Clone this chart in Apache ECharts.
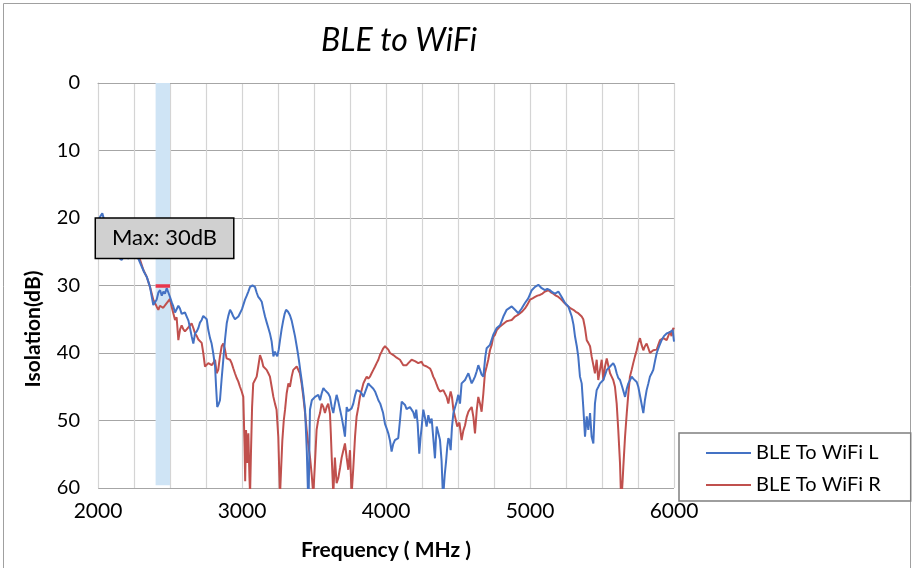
<!DOCTYPE html>
<html><head><meta charset="utf-8">
<script src="https://cdn.jsdelivr.net/npm/echarts@6/dist/echarts.min.js"></script>
<style>html,body{margin:0;padding:0;background:#fff}#c{width:913px;height:568px}</style>
</head><body><div id="c"></div>
<script>
// ---- data ----
const freqL = [2000,2015,2030,2045,2060,2080,2100,2120,2140,2164,2185,2210,2240,2260,2280,2300,2320,2340,2361,2372,2384,2395,2407,2420,2431,2443,2454,2465,2477,2488,2500,2512,2523,2535,2546,2558,2569,2581,2593,2604,2616,2628,2639,2650,2662,2674,2686,2697,2708,2720,2731,2743,2755,2766,2778,2789,2800,2813,2820,2828,2837,2847,2858,2870,2882,2894,2905,2917,2928,2940,2951,2963,2975,2986,3000,3021,3033,3044,3056,3073,3090,3101,3113,3125,3137,3148,3160,3172,3183,3195,3206,3218,3229,3237,3245,3255,3264,3275,3287,3296,3306,3320,3333,3345,3356,3368,3380,3390,3398,3406,3414,3426,3438,3450,3458,3463,3468,3472,3485,3496,3507,3518,3530,3542,3553,3565,3576,3588,3599,3611,3623,3634,3645,3657,3669,3681,3692,3704,3715,3727,3738,3750,3761,3773,3785,3796,3808,3819,3831,3843,3860,3877,3889,3900,3912,3924,3935,3947,3960,3980,3993,4005,4016,4028,4039,4050,4062,4074,4085,4097,4109,4120,4132,4143,4155,4166,4178,4190,4201,4210,4220,4231,4240,4248,4259,4270,4282,4294,4306,4317,4328,4340,4346,4352,4363,4375,4386,4394,4398,4408,4417,4425,4433,4441,4449,4458,4468,4480,4491,4502,4514,4525,4537,4549,4560,4572,4584,4595,4607,4618,4630,4641,4653,4664,4676,4690,4699,4722,4745,4769,4792,4815,4838,4850,4873,4896,4919,4942,4965,4988,5012,5035,5058,5081,5104,5120,5139,5155,5174,5197,5220,5243,5266,5290,5302,5313,5325,5335,5347,5359,5370,5382,5394,5405,5417,5428,5440,5451,5463,5475,5486,5498,5509,5521,5533,5545,5556,5567,5578,5590,5602,5613,5625,5640,5660,5672,5683,5695,5706,5717,5729,5741,5752,5770,5787,5798,5810,5822,5833,5845,5856,5868,5880,5897,5914,5930,5949,5960,5972,5985,5991,6000];
const isoL = [20.5,19.8,19.3,20.5,22,23.5,24.5,25.5,25.8,26.2,25.5,26.0,25.5,25.8,26.0,27.0,28.0,28.8,30.2,31.5,32.9,32.5,32.1,31.0,30.7,31.5,30.9,31.2,30.4,31.0,31.7,32.5,33.1,34.0,33.9,33.0,33.4,34.2,34.1,34.0,34.6,35.2,36.3,37.5,38.6,37.1,36.8,36.3,35.5,35.1,34.5,34.4,35.0,36.6,37.8,38.6,40.0,42.0,45.0,48.0,47.6,47.0,44.0,41.0,38.0,35.6,34.5,33.6,34.0,34.6,35.0,35.1,34.6,34.4,33.5,32.1,31.5,30.9,30.2,30.0,30.2,31.0,31.7,32.0,32.4,33.5,34.6,35.5,36.3,37.2,38.3,40.5,39.8,40.2,40.5,39.5,38.1,36.5,35.1,34.2,33.6,33.9,34.4,35.2,36.3,37.5,39.0,40.3,41.5,42.8,44.0,46.0,48.4,54.5,60.5,61,54,48.4,47.0,47.2,46.5,46.6,46.2,47.0,46.0,45.2,45.5,45.7,46.0,46.5,48.0,48.9,47.5,46.2,47.2,48.4,49.5,50.9,52.4,48.0,48.6,48.4,48.2,47.5,46.3,45.5,45.3,45.7,46.0,46.5,45.5,44.5,44.8,45.0,45.3,45.7,46.3,47.0,47.5,48.9,50.5,51.2,51.9,53.0,54.6,53.5,52.9,52.7,52.6,50.0,47.2,47.4,47.7,48.3,48.4,48.0,48.0,48.8,49.7,48.4,50.5,54.9,52.5,50.9,48.4,49.5,50.9,49.2,50.4,49.7,52.5,55.6,53.0,50.9,51.8,52.9,56.0,60.5,61,58.0,56.1,54.0,52.6,53.0,54.4,51.0,48.9,48.0,47.2,46.2,47.5,44.5,44.3,44.0,43.5,43.0,43.8,44.5,44.0,43.5,42.7,41.8,42.5,43.2,43.5,40.5,39.3,38.8,37.3,36.3,35.9,34.6,33.6,33.8,33.1,33.6,34.1,33.4,32.6,31.9,30.7,30.2,29.9,30.4,30.7,30.5,30.7,31.0,31.2,30.9,31.7,32.6,33.1,34.6,35.8,37.6,39.0,40.5,43.5,44.5,48.0,52.4,49.4,51.4,48.9,52.4,53.4,47.5,45.5,45.0,44.5,44.5,44.0,43.3,42.5,42.3,42.0,41.8,41.5,42.0,43.0,43.7,44.0,45.0,46.5,45.3,44.5,44.0,43.5,43.8,44.0,44.3,45.0,47.0,48.9,47.0,45.5,44.5,43.5,43.0,42.5,41.2,40.0,39.0,38.1,37.5,37.1,37.3,36.9,36.8,36.6,38.3];

const freqR = [2000,2040,2080,2118,2150,2200,2250,2270,2292,2315,2338,2361,2384,2407,2419,2430,2442,2453,2465,2477,2488,2500,2512,2523,2535,2546,2558,2570,2581,2593,2604,2616,2627,2639,2650,2662,2674,2686,2697,2708,2720,2731,2743,2755,2766,2778,2790,2800,2813,2824,2835,2847,2859,2870,2882,2893,2905,2917,2928,2940,2951,2963,2974,2986,2998,3009,3018,3022,3028,3037,3044,3052,3056,3062,3070,3078,3090,3102,3113,3125,3137,3148,3160,3171,3183,3194,3206,3218,3229,3240,3252,3258,3264,3272,3280,3290,3299,3310,3322,3333,3345,3356,3368,3380,3391,3402,3414,3426,3438,3449,3460,3472,3484,3495,3505,3518,3530,3542,3553,3565,3576,3588,3599,3611,3617,3623,3634,3645,3657,3669,3681,3692,3704,3715,3727,3738,3750,3761,3773,3785,3796,3808,3819,3831,3843,3854,3866,3877,3889,3900,3912,3924,3935,3947,3958,3970,3981,3993,4005,4016,4028,4040,4051,4063,4074,4085,4097,4109,4120,4132,4143,4155,4167,4178,4190,4201,4213,4224,4236,4247,4259,4271,4283,4294,4306,4317,4328,4340,4352,4363,4375,4386,4398,4410,4421,4433,4441,4449,4458,4468,4480,4495,4510,4525,4537,4549,4560,4572,4584,4595,4607,4618,4630,4641,4653,4664,4676,4687,4699,4710,4722,4734,4745,4757,4769,4786,4803,4820,4838,4855,4873,4896,4913,4931,4948,4965,4983,5000,5018,5035,5052,5069,5087,5104,5127,5145,5162,5180,5197,5214,5231,5249,5266,5283,5301,5318,5335,5347,5359,5370,5382,5394,5405,5417,5428,5440,5451,5463,5474,5486,5498,5509,5521,5533,5545,5556,5567,5578,5590,5602,5613,5625,5631,5637,5643,5648,5660,5672,5683,5694,5706,5717,5729,5741,5752,5764,5775,5787,5798,5810,5822,5833,5845,5856,5868,5880,5891,5903,5914,5926,5937,5949,5960,5972,5983,5995,6000];
const isoR = [22,23,24.5,25.9,25.5,25.5,25.8,25.8,26.2,27.7,28.7,30.2,32.1,33.1,33.6,33.0,32.9,33.3,33.1,32.6,32.4,32.0,33.2,34.1,35.1,34.7,38.1,36.5,35.9,36.5,36.8,36.5,36.3,35.9,35.6,36.3,37.1,37.5,38.0,38.1,38.5,40.0,42.0,42.0,41.5,41.7,41.8,41.5,41.0,43.0,42.5,40.5,39.0,38.6,39.5,40.8,40.8,41.0,41.5,42.3,43.0,43.7,44.2,45.0,45.7,46.5,54.0,59.0,51.4,56.3,51.9,58.5,61,55.0,48.0,44.5,44.0,43.5,42.0,40.3,41.0,42.0,42.2,42.5,43.0,43.5,45.0,46.5,47.5,48.4,52.4,57.0,61,57.0,53.0,50.0,48.4,46.0,44.5,45.0,43.5,42.5,42.3,42.0,42.0,43.0,44.5,46.5,48.9,51.4,53.5,55.4,58.0,61,57.0,51.4,49.8,48.9,47.5,48.0,48.9,48.0,47.5,49.0,52.0,55.4,61,55.5,59.3,58.5,57.0,55.5,54.4,53.4,55.5,57.3,54.4,61,57.0,52.4,49.4,48.0,46.5,45.5,44.5,44.0,43.5,43.8,43.5,43.0,42.5,42.0,41.5,41.0,40.3,39.8,39.3,39.0,39.0,39.5,40.0,40.2,40.3,40.5,40.7,40.8,41.0,41.2,41.8,42.0,41.8,41.5,41.3,41.0,40.8,41.2,41.3,41.5,41.3,41.3,41.8,42.0,42.0,42.2,42.3,42.8,43.5,44.0,44.7,45.3,45.7,45.5,45.5,45.7,46.5,47.5,46.5,45.7,46.5,48.4,49.5,50.9,50.3,52.9,51.5,50.7,49.5,48.7,48.3,48.0,49.5,51.9,48.5,46.5,47.5,48.7,46.0,43.0,42.0,41.0,39.6,38.8,37.6,37.3,36.6,36.2,35.9,35.6,35.3,35.2,35.1,34.6,34.4,34.1,33.8,33.4,32.8,32.1,31.9,31.7,31.5,31.4,31.2,30.9,30.7,31.0,31.2,31.5,31.7,32.0,32.4,32.8,33.1,33.4,33.6,33.9,34.1,34.3,34.6,35.0,36.3,38.1,38.5,39.0,40.5,41.8,43.0,41.0,44.0,42.5,41.0,44.0,42.0,40.8,42.0,43.0,43.5,44.0,45.0,47.5,51.4,56.3,60.5,61,59.0,56.9,52.4,48.9,46.0,43.5,42.5,41.5,40.5,39.6,38.5,37.8,38.8,39.6,39.0,38.6,39.3,40.0,39.8,39.6,39.8,39.5,38.8,38.1,37.9,37.8,38.0,38.1,37.5,36.8,37.5,36.3,36.5];

const bandRange = [2400, 2500];   // BLE band
const maxValue = 30;              // max isolation in band
const maxLabel = 'Max: 30dB';
const labelAnchor = [2462, 23.0];
const xTicks = [2000, 3000, 4000, 5000, 6000];
const yTicks = [0, 10, 20, 30, 40, 50, 60];

const FONT = 'Lato, "Open Sans", sans-serif';
const pairs = (xs, ys) => xs.map((x, i) => [x, ys[i]]);

const chart = echarts.init(document.getElementById('c'), null, {renderer: 'canvas'});
chart.setOption({
  animation: false,
  backgroundColor: '#fff',
  title: {
    text: 'BLE to WiFi', left: 394, top: 20, textAlign: 'center',
    textStyle: {fontFamily: FONT, fontStyle: 'italic', fontWeight: 'normal', fontSize: 32, color: '#000'}
  },
  grid: {left: 98, right: 239, top: 83, bottom: 80, containLabel: false},
  legend: {
    left: 679, top: 433, orient: 'vertical',
    padding: [10, 30, 6, 26], itemGap: 12, itemWidth: 45, itemHeight: 18,
    borderColor: '#7f7f7f', borderWidth: 1.5, backgroundColor: '#fff',
    itemStyle: {opacity: 0},
    textStyle: {fontFamily: FONT, fontSize: 20, color: '#000', lineHeight: 18},
    data: ['BLE To WiFi L', 'BLE To WiFi R']
  },
  xAxis: {
    type: 'value', min: 2000, max: 6000, interval: 250,
    name: 'Frequency ( MHz )', nameLocation: 'middle', nameGap: 52,
    nameTextStyle: {fontFamily: FONT, fontWeight: 'bold', fontSize: 21, color: '#000'},
    axisLine: {show: true, lineStyle: {color: '#a6a6a6', width: 1}},
    axisTick: {show: false},
    axisLabel: {
      fontFamily: FONT, fontSize: 21, color: '#000', margin: 13,
      formatter: v => xTicks.includes(v) ? String(v) : ''
    },
    splitLine: {show: true, lineStyle: {color: '#d4d4d4', width: 1.2}}
  },
  yAxis: {
    type: 'value', min: 0, max: 60, interval: 10, inverse: true,
    axisLine: {show: true, lineStyle: {color: '#d4d4d4', width: 1}},
    axisTick: {show: false},
    axisLabel: {fontFamily: FONT, fontSize: 20, color: '#000', margin: 18,
      formatter: v => yTicks.includes(v) ? String(v) : ''},
    splitLine: {show: true, lineStyle: {color: '#a6a6a6', width: 1.2}}
  },
  graphic: [
    {type: 'rect', shape: {x: 3.5, y: 3.5, width: 907, height: 580}, style: {fill: 'none', stroke: '#a0a0a0', lineWidth: 1}, z: -1, silent: true},
    {type: 'text', x: 33, y: 329, rotation: Math.PI / 2,
      style: {text: 'Isolation(dB)', fontFamily: FONT, fontWeight: 'bold', fontSize: 21, fill: '#000', align: 'center', verticalAlign: 'middle'}}
  ],
  series: [
    {
      name: 'BLE To WiFi L', type: 'line', data: pairs(freqL, isoL),
      symbol: 'none', lineStyle: {color: '#4472C4', width: 2}, itemStyle: {color: '#4472C4'},
      clip: true, z: 3,
      markArea: {
        silent: true, itemStyle: {color: '#cfe4f5'},
        data: [[{coord: [bandRange[0], 0]}, {coord: [bandRange[1], 59.6]}]]
      }
    },
    {
      name: 'BLE To WiFi R', type: 'line', data: pairs(freqR, isoR),
      symbol: 'none', lineStyle: {color: '#C0504D', width: 2}, itemStyle: {color: '#C0504D'},
      clip: true, z: 2,
      markLine: {
        silent: true, symbol: 'none', label: {show: false},
        lineStyle: {color: '#E8374C', width: 3.5, type: 'solid'},
        data: [[{coord: [bandRange[0], maxValue]}, {coord: [bandRange[1], maxValue]}]]
      },
      markPoint: {
        silent: true, symbol: 'rect', symbolSize: 1, itemStyle: {color: 'rgba(0,0,0,0)'},
        label: {
          show: true, position: 'inside', formatter: maxLabel,
          fontFamily: FONT, fontSize: 22, color: '#000',
          backgroundColor: '#d0d0d0', borderColor: '#000', borderWidth: 1.5,
          padding: [9, 16, 8, 16]
        },
        data: [{coord: labelAnchor}]
      }
    }
  ]
});
</script></body></html>
